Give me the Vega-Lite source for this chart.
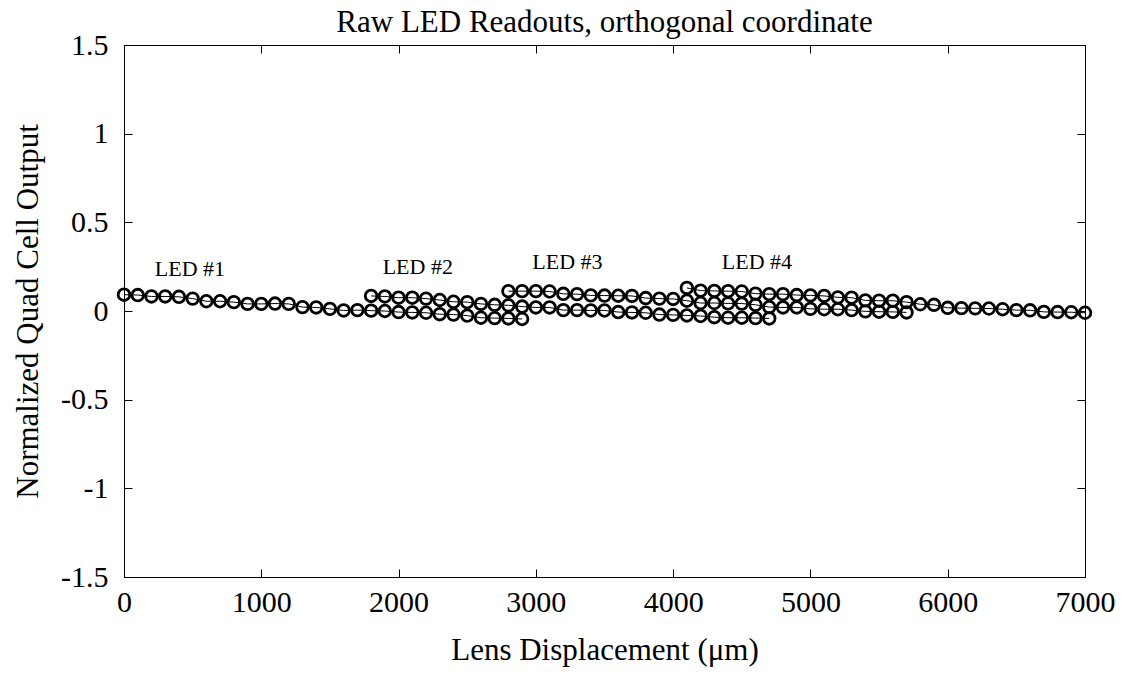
{
  "$schema": "https://vega.github.io/schema/vega-lite/v6.json",
  "width": 961,
  "height": 532,
  "autosize": {"type": "none"},
  "padding": {"left": 124, "top": 45, "right": 37, "bottom": 98},
  "background": "white",
  "config": {
    "view": {"stroke": "black", "strokeWidth": 1},
    "font": "Liberation Serif",
    "axis": {"grid": false, "domainColor": "black", "tickColor": "black", "labelColor": "black", "titleColor": "black", "labelFont": "Liberation Serif", "titleFont": "Liberation Serif", "labelFontSize": 30, "titleFontSize": 31, "titleFontWeight": "normal", "tickSize": -8, "labelFlush": false, "labelOverlap": false}
  },
  "title": {"text": "Raw LED Readouts, orthogonal coordinate", "font": "Liberation Serif", "fontSize": 31, "fontWeight": "normal", "color": "black", "offset": 8, "dy": 17},
  "datasets": {
    "pts": [
      {"led": "LED #1", "x": 0, "y": 0.092}, {"led": "LED #1", "x": 100, "y": 0.09}, {"led": "LED #1", "x": 200, "y": 0.082}, {"led": "LED #1", "x": 300, "y": 0.082}, {"led": "LED #1", "x": 400, "y": 0.08}, {"led": "LED #1", "x": 500, "y": 0.07}, {"led": "LED #1", "x": 600, "y": 0.055}, {"led": "LED #1", "x": 700, "y": 0.055}, {"led": "LED #1", "x": 800, "y": 0.05}, {"led": "LED #1", "x": 900, "y": 0.04},
      {"led": "LED #1", "x": 1000, "y": 0.04}, {"led": "LED #1", "x": 1100, "y": 0.042}, {"led": "LED #1", "x": 1200, "y": 0.04}, {"led": "LED #1", "x": 1300, "y": 0.022}, {"led": "LED #1", "x": 1400, "y": 0.02}, {"led": "LED #1", "x": 1500, "y": 0.012}, {"led": "LED #1", "x": 1600, "y": 0.003}, {"led": "LED #1", "x": 1700, "y": 0.005}, {"led": "LED #1", "x": 1800, "y": 0.002}, {"led": "LED #1", "x": 1900, "y": 0.0},
      {"led": "LED #1", "x": 2000, "y": -0.006}, {"led": "LED #1", "x": 2100, "y": -0.008}, {"led": "LED #1", "x": 2200, "y": -0.01}, {"led": "LED #1", "x": 2300, "y": -0.018}, {"led": "LED #1", "x": 2400, "y": -0.02}, {"led": "LED #1", "x": 2500, "y": -0.026}, {"led": "LED #1", "x": 2600, "y": -0.038}, {"led": "LED #1", "x": 2700, "y": -0.04}, {"led": "LED #1", "x": 2800, "y": -0.042}, {"led": "LED #1", "x": 2900, "y": -0.045},
      {"led": "LED #2", "x": 1800, "y": 0.085}, {"led": "LED #2", "x": 1900, "y": 0.082}, {"led": "LED #2", "x": 2000, "y": 0.075}, {"led": "LED #2", "x": 2100, "y": 0.075}, {"led": "LED #2", "x": 2200, "y": 0.07}, {"led": "LED #2", "x": 2300, "y": 0.062}, {"led": "LED #2", "x": 2400, "y": 0.052}, {"led": "LED #2", "x": 2500, "y": 0.05}, {"led": "LED #2", "x": 2600, "y": 0.04}, {"led": "LED #2", "x": 2700, "y": 0.035},
      {"led": "LED #2", "x": 2800, "y": 0.032}, {"led": "LED #2", "x": 2900, "y": 0.025}, {"led": "LED #2", "x": 3000, "y": 0.02}, {"led": "LED #2", "x": 3100, "y": 0.02}, {"led": "LED #2", "x": 3200, "y": 0.005}, {"led": "LED #2", "x": 3300, "y": 0.005}, {"led": "LED #2", "x": 3400, "y": 0.003}, {"led": "LED #2", "x": 3500, "y": 0.003}, {"led": "LED #2", "x": 3600, "y": -0.006}, {"led": "LED #2", "x": 3700, "y": -0.008},
      {"led": "LED #2", "x": 3800, "y": -0.01}, {"led": "LED #2", "x": 3900, "y": -0.02}, {"led": "LED #2", "x": 4000, "y": -0.022}, {"led": "LED #2", "x": 4100, "y": -0.025}, {"led": "LED #2", "x": 4200, "y": -0.028}, {"led": "LED #2", "x": 4300, "y": -0.035}, {"led": "LED #2", "x": 4400, "y": -0.038}, {"led": "LED #2", "x": 4500, "y": -0.038}, {"led": "LED #2", "x": 4600, "y": -0.04}, {"led": "LED #2", "x": 4700, "y": -0.042},
      {"led": "LED #3", "x": 2800, "y": 0.112}, {"led": "LED #3", "x": 2900, "y": 0.112}, {"led": "LED #3", "x": 3000, "y": 0.112}, {"led": "LED #3", "x": 3100, "y": 0.11}, {"led": "LED #3", "x": 3200, "y": 0.097}, {"led": "LED #3", "x": 3300, "y": 0.095}, {"led": "LED #3", "x": 3400, "y": 0.088}, {"led": "LED #3", "x": 3500, "y": 0.087}, {"led": "LED #3", "x": 3600, "y": 0.086}, {"led": "LED #3", "x": 3700, "y": 0.085},
      {"led": "LED #3", "x": 3800, "y": 0.073}, {"led": "LED #3", "x": 3900, "y": 0.07}, {"led": "LED #3", "x": 4000, "y": 0.068}, {"led": "LED #3", "x": 4100, "y": 0.058}, {"led": "LED #3", "x": 4200, "y": 0.045}, {"led": "LED #3", "x": 4300, "y": 0.045}, {"led": "LED #3", "x": 4400, "y": 0.043}, {"led": "LED #3", "x": 4500, "y": 0.042}, {"led": "LED #3", "x": 4600, "y": 0.035}, {"led": "LED #3", "x": 4700, "y": 0.022},
      {"led": "LED #3", "x": 4800, "y": 0.02}, {"led": "LED #3", "x": 4900, "y": 0.02}, {"led": "LED #3", "x": 5000, "y": 0.012}, {"led": "LED #3", "x": 5100, "y": 0.01}, {"led": "LED #3", "x": 5200, "y": 0.01}, {"led": "LED #3", "x": 5300, "y": 0.005}, {"led": "LED #3", "x": 5400, "y": -0.002}, {"led": "LED #3", "x": 5500, "y": -0.004}, {"led": "LED #3", "x": 5600, "y": -0.005}, {"led": "LED #3", "x": 5700, "y": -0.008},
      {"led": "LED #4", "x": 4100, "y": 0.13}, {"led": "LED #4", "x": 4200, "y": 0.115}, {"led": "LED #4", "x": 4300, "y": 0.113}, {"led": "LED #4", "x": 4400, "y": 0.112}, {"led": "LED #4", "x": 4500, "y": 0.11}, {"led": "LED #4", "x": 4600, "y": 0.098}, {"led": "LED #4", "x": 4700, "y": 0.095}, {"led": "LED #4", "x": 4800, "y": 0.095}, {"led": "LED #4", "x": 4900, "y": 0.09}, {"led": "LED #4", "x": 5000, "y": 0.088},
      {"led": "LED #4", "x": 5100, "y": 0.085}, {"led": "LED #4", "x": 5200, "y": 0.077}, {"led": "LED #4", "x": 5300, "y": 0.075}, {"led": "LED #4", "x": 5400, "y": 0.06}, {"led": "LED #4", "x": 5500, "y": 0.058}, {"led": "LED #4", "x": 5600, "y": 0.058}, {"led": "LED #4", "x": 5700, "y": 0.05}, {"led": "LED #4", "x": 5800, "y": 0.038}, {"led": "LED #4", "x": 5900, "y": 0.035}, {"led": "LED #4", "x": 6000, "y": 0.018},
      {"led": "LED #4", "x": 6100, "y": 0.016}, {"led": "LED #4", "x": 6200, "y": 0.015}, {"led": "LED #4", "x": 6300, "y": 0.014}, {"led": "LED #4", "x": 6400, "y": 0.01}, {"led": "LED #4", "x": 6500, "y": 0.005}, {"led": "LED #4", "x": 6600, "y": 0.004}, {"led": "LED #4", "x": 6700, "y": -0.005}, {"led": "LED #4", "x": 6800, "y": -0.006}, {"led": "LED #4", "x": 6900, "y": -0.007}, {"led": "LED #4", "x": 7000, "y": -0.01}
    ],
    "labels": [
      {"label": "LED #1", "x": 480, "y": 0.237},
      {"label": "LED #2", "x": 2140, "y": 0.248},
      {"label": "LED #3", "x": 3230, "y": 0.276},
      {"label": "LED #4", "x": 4610, "y": 0.276}
    ]
  },
  "layer": [
    {
      "data": {"name": "pts"},
      "mark": {"type": "line", "color": "black", "strokeWidth": 1},
      "encoding": {
        "x": {"field": "x", "type": "quantitative", "scale": {"domain": [0, 7000], "nice": false},
          "axis": {"orient": "bottom", "values": [0, 1000, 2000, 3000, 4000, 5000, 6000, 7000], "labelExpr": "datum.value + ''", "labelPadding": 18, "title": "Lens Displacement (μm)", "titlePadding": 18}},
        "y": {"field": "y", "type": "quantitative", "scale": {"domain": [-1.5, 1.5], "nice": false, "zero": false},
          "axis": {"orient": "left", "values": [-1.5, -1, -0.5, 0, 0.5, 1, 1.5], "labelExpr": "datum.value + ''", "labelPadding": 24, "title": "Normalized Quad Cell Output", "titlePadding": 16}},
        "detail": {"field": "led"},
        "order": {"field": "x", "type": "quantitative"}
      }
    },
    {
      "data": {"name": "pts"},
      "mark": {"type": "point", "shape": "circle", "filled": false, "stroke": "black", "strokeWidth": 2.8, "size": 135, "opacity": 1},
      "encoding": {
        "x": {"field": "x", "type": "quantitative", "scale": {"domain": [0, 7000], "nice": false},
          "axis": {"orient": "top", "values": [0, 1000, 2000, 3000, 4000, 5000, 6000, 7000], "labels": false, "title": null}},
        "y": {"field": "y", "type": "quantitative", "scale": {"domain": [-1.5, 1.5], "nice": false, "zero": false},
          "axis": {"orient": "right", "values": [-1.5, -1, -0.5, 0, 0.5, 1, 1.5], "labels": false, "title": null}}
      }
    },
    {
      "data": {"name": "labels"},
      "mark": {"type": "text", "font": "Liberation Serif", "fontSize": 22, "color": "black", "align": "center", "baseline": "middle"},
      "encoding": {
        "x": {"field": "x", "type": "quantitative", "axis": null},
        "y": {"field": "y", "type": "quantitative", "axis": null},
        "text": {"field": "label"}
      }
    }
  ]
}
